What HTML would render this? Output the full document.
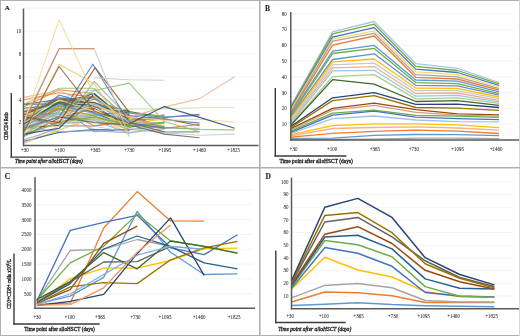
<!DOCTYPE html>
<html><head><meta charset="utf-8"><style>
html,body{margin:0;padding:0;background:#fff;width:520px;height:336px;overflow:hidden;}
svg{display:block;filter:blur(0.35px);}
</style></head><body>
<svg width="520" height="336" viewBox="0 0 520 336">
<rect width="520" height="336" fill="#fff"/>
<line x1="24.0" y1="122.6" x2="256.0" y2="122.6" stroke="#eeeeee" stroke-width="0.6"/>
<line x1="24.0" y1="99.7" x2="256.0" y2="99.7" stroke="#eeeeee" stroke-width="0.6"/>
<line x1="24.0" y1="76.8" x2="256.0" y2="76.8" stroke="#eeeeee" stroke-width="0.6"/>
<line x1="24.0" y1="53.9" x2="256.0" y2="53.9" stroke="#eeeeee" stroke-width="0.6"/>
<line x1="24.0" y1="31.0" x2="256.0" y2="31.0" stroke="#eeeeee" stroke-width="0.6"/>
<line x1="24.0" y1="8.1" x2="256.0" y2="8.1" stroke="#eeeeee" stroke-width="0.6"/>
<polyline points="24.0,115.5 59.1,114.0 94.2,119.2 129.3,121.1 164.4,129.5" stroke="#A9D18E" stroke-width="1.1" fill="none" stroke-linejoin="round" stroke-opacity="0.85"/>
<polyline points="24.0,114.3 59.1,97.4 94.2,103.4 129.3,115.4 164.4,127.5" stroke="#255E91" stroke-width="1.1" fill="none" stroke-linejoin="round" stroke-opacity="0.85"/>
<polyline points="24.0,123.0 59.1,108.3 94.2,96.2 129.3,119.4 164.4,118.6 199.5,125.7" stroke="#7F6000" stroke-width="1.1" fill="none" stroke-linejoin="round" stroke-opacity="0.85"/>
<polyline points="24.0,127.2 59.1,113.5 94.2,113.7 129.3,123.4" stroke="#9DC3E6" stroke-width="1.1" fill="none" stroke-linejoin="round" stroke-opacity="0.85"/>
<polyline points="24.0,117.0 59.1,107.8 94.2,99.2 129.3,113.0 164.4,116.0" stroke="#5A8A39" stroke-width="1.1" fill="none" stroke-linejoin="round" stroke-opacity="0.85"/>
<polyline points="24.0,143.2 59.1,130.1 94.2,117.8 129.3,123.9 164.4,118.9" stroke="#FFC000" stroke-width="1.1" fill="none" stroke-linejoin="round" stroke-opacity="0.85"/>
<polyline points="24.0,111.3 59.1,113.5 94.2,114.1 129.3,125.6 164.4,127.1" stroke="#C9C9C9" stroke-width="1.1" fill="none" stroke-linejoin="round" stroke-opacity="0.85"/>
<polyline points="24.0,104.3 59.1,103.9 94.2,112.4 129.3,127.2 164.4,122.6" stroke="#255E91" stroke-width="1.1" fill="none" stroke-linejoin="round" stroke-opacity="0.85"/>
<polyline points="24.0,110.9 59.1,97.1 94.2,112.9 129.3,119.7 164.4,117.7" stroke="#A5A5A5" stroke-width="1.1" fill="none" stroke-linejoin="round" stroke-opacity="0.85"/>
<polyline points="24.0,114.6 59.1,116.8 94.2,104.1 129.3,122.7" stroke="#4472C4" stroke-width="1.1" fill="none" stroke-linejoin="round" stroke-opacity="0.85"/>
<polyline points="24.0,130.2 59.1,110.9 94.2,103.6 129.3,119.0 164.4,126.2" stroke="#8CC168" stroke-width="1.1" fill="none" stroke-linejoin="round" stroke-opacity="0.85"/>
<polyline points="24.0,113.9 59.1,102.8 94.2,112.3" stroke="#9E480E" stroke-width="1.1" fill="none" stroke-linejoin="round" stroke-opacity="0.85"/>
<polyline points="24.0,119.9 59.1,123.9 94.2,120.7 129.3,133.4" stroke="#7CAFDD" stroke-width="1.1" fill="none" stroke-linejoin="round" stroke-opacity="0.85"/>
<polyline points="24.0,106.7 59.1,89.7 94.2,93.6 129.3,130.0" stroke="#ED7D31" stroke-width="1.1" fill="none" stroke-linejoin="round" stroke-opacity="0.85"/>
<polyline points="24.0,114.8 59.1,113.6 94.2,104.1 129.3,111.5" stroke="#264478" stroke-width="1.1" fill="none" stroke-linejoin="round" stroke-opacity="0.85"/>
<polyline points="24.0,136.1 59.1,108.4 94.2,106.1" stroke="#FFD966" stroke-width="1.1" fill="none" stroke-linejoin="round" stroke-opacity="0.85"/>
<polyline points="24.0,119.9 59.1,106.0 94.2,93.3 129.3,131.1" stroke="#70AD47" stroke-width="1.1" fill="none" stroke-linejoin="round" stroke-opacity="0.85"/>
<polyline points="24.0,108.3 59.1,104.8 94.2,104.2 129.3,113.0" stroke="#43682B" stroke-width="1.1" fill="none" stroke-linejoin="round" stroke-opacity="0.85"/>
<polyline points="24.0,130.2 59.1,107.1 94.2,131.8 129.3,129.5 164.4,126.3" stroke="#5B9BD5" stroke-width="1.1" fill="none" stroke-linejoin="round" stroke-opacity="0.85"/>
<polyline points="24.0,131.2 59.1,104.9 94.2,118.6 129.3,130.0" stroke="#F4B183" stroke-width="1.1" fill="none" stroke-linejoin="round" stroke-opacity="0.85"/>
<polyline points="24.0,136.2 59.1,121.8 94.2,115.2 129.3,111.6 164.4,117.4 199.5,114.4" stroke="#636363" stroke-width="1.1" fill="none" stroke-linejoin="round" stroke-opacity="0.85"/>
<polyline points="24.0,114.3 59.1,98.2 94.2,89.5 129.3,119.5 164.4,128.5 199.5,124.5" stroke="#9DC3E6" stroke-width="1.1" fill="none" stroke-linejoin="round" stroke-opacity="0.85"/>
<polyline points="24.0,126.8 59.1,107.0 94.2,102.5 129.3,117.9" stroke="#CC9A00" stroke-width="1.1" fill="none" stroke-linejoin="round" stroke-opacity="0.85"/>
<polyline points="24.0,119.3 59.1,98.9 94.2,97.7 129.3,131.2" stroke="#698ED0" stroke-width="1.1" fill="none" stroke-linejoin="round" stroke-opacity="0.85"/>
<polyline points="24.0,128.5 59.1,113.4 94.2,119.6 129.3,119.6" stroke="#B7B7B7" stroke-width="1.1" fill="none" stroke-linejoin="round" stroke-opacity="0.85"/>
<polyline points="24.0,136.0 59.1,118.0 94.2,108.4 129.3,124.4" stroke="#843C0C" stroke-width="1.1" fill="none" stroke-linejoin="round" stroke-opacity="0.85"/>
<polyline points="24.0,115.8 59.1,116.6 94.2,114.7 129.3,125.6" stroke="#7CAFDD" stroke-width="1.1" fill="none" stroke-linejoin="round" stroke-opacity="0.85"/>
<polyline points="24.0,104.3 59.1,99.5 94.2,105.7 129.3,127.3" stroke="#43682B" stroke-width="1.1" fill="none" stroke-linejoin="round" stroke-opacity="0.85"/>
<polyline points="24.0,114.0 59.1,116.1 94.2,118.5 129.3,132.7" stroke="#F4B183" stroke-width="1.1" fill="none" stroke-linejoin="round" stroke-opacity="0.85"/>
<polyline points="24.0,116.8 59.1,125.7 94.2,126.0 129.3,121.3 164.4,114.9" stroke="#636363" stroke-width="1.1" fill="none" stroke-linejoin="round" stroke-opacity="0.85"/>
<polyline points="24.0,124.8 59.1,112.3 94.2,118.7 129.3,123.7" stroke="#A9D18E" stroke-width="1.1" fill="none" stroke-linejoin="round" stroke-opacity="0.85"/>
<polyline points="24.0,141.2 59.1,132.4 94.2,129.6 129.3,130.0" stroke="#255E91" stroke-width="1.1" fill="none" stroke-linejoin="round" stroke-opacity="0.85"/>
<polyline points="24.0,127.7 59.1,125.4 94.2,104.3 129.3,110.5" stroke="#7F6000" stroke-width="1.1" fill="none" stroke-linejoin="round" stroke-opacity="0.85"/>
<polyline points="24.0,122.6 59.1,113.4 94.2,117.3 129.3,123.1" stroke="#9DC3E6" stroke-width="1.1" fill="none" stroke-linejoin="round" stroke-opacity="0.85"/>
<polyline points="24.0,116.8 59.1,99.2 94.2,97.4 129.3,122.5" stroke="#5A8A39" stroke-width="1.1" fill="none" stroke-linejoin="round" stroke-opacity="0.85"/>
<polyline points="24.0,115.6 59.1,107.3 94.2,110.4 129.3,127.7" stroke="#FFC000" stroke-width="1.1" fill="none" stroke-linejoin="round" stroke-opacity="0.85"/>
<polyline points="24.0,143.2 59.1,126.1 94.2,126.2 129.3,132.2 164.4,129.2" stroke="#C9C9C9" stroke-width="1.1" fill="none" stroke-linejoin="round" stroke-opacity="0.85"/>
<polyline points="24.0,120.3 59.1,103.8 94.2,93.5 129.3,122.2" stroke="#255E91" stroke-width="1.1" fill="none" stroke-linejoin="round" stroke-opacity="0.85"/>
<polyline points="24.0,126.2 59.1,120.8 94.2,106.8 129.3,115.1 164.4,115.9" stroke="#A5A5A5" stroke-width="1.1" fill="none" stroke-linejoin="round" stroke-opacity="0.85"/>
<polyline points="24.0,123.5 59.1,95.0 94.2,105.6 129.3,115.8 164.4,119.5 199.5,123.1" stroke="#4472C4" stroke-width="1.1" fill="none" stroke-linejoin="round" stroke-opacity="0.85"/>
<polyline points="24.0,104.3 59.1,88.2 94.2,88.2 129.3,120.3 164.4,128.3" stroke="#8CC168" stroke-width="1.1" fill="none" stroke-linejoin="round" stroke-opacity="0.85"/>
<polyline points="24.0,115.0 59.1,99.0 94.2,102.7 129.3,114.4" stroke="#9E480E" stroke-width="1.1" fill="none" stroke-linejoin="round" stroke-opacity="0.85"/>
<polyline points="24.0,121.9 59.1,104.5 94.2,97.3 129.3,121.3 164.4,123.1" stroke="#7CAFDD" stroke-width="1.1" fill="none" stroke-linejoin="round" stroke-opacity="0.85"/>
<polyline points="24.0,123.2 59.1,108.9 94.2,125.8 129.3,121.3 164.4,118.3" stroke="#ED7D31" stroke-width="1.1" fill="none" stroke-linejoin="round" stroke-opacity="0.85"/>
<polyline points="24.0,124.0 59.1,101.9 94.2,106.8 129.3,112.8" stroke="#264478" stroke-width="1.1" fill="none" stroke-linejoin="round" stroke-opacity="0.85"/>
<polyline points="24.0,116.3 59.1,101.4 94.2,104.1 129.3,119.6 164.4,125.0" stroke="#FFD966" stroke-width="1.1" fill="none" stroke-linejoin="round" stroke-opacity="0.85"/>
<polyline points="24.0,129.7 59.1,116.5 94.2,120.5 129.3,126.4 164.4,122.0" stroke="#70AD47" stroke-width="1.1" fill="none" stroke-linejoin="round" stroke-opacity="0.85"/>
<polyline points="24.0,121.8 59.1,102.0 94.2,102.2 129.3,119.2" stroke="#43682B" stroke-width="1.1" fill="none" stroke-linejoin="round" stroke-opacity="0.85"/>
<polyline points="24.0,125.7 59.1,109.4 94.2,103.8 129.3,112.6 164.4,119.0" stroke="#5B9BD5" stroke-width="1.1" fill="none" stroke-linejoin="round" stroke-opacity="0.85"/>
<polyline points="24.0,130.7 59.1,120.1 94.2,128.7" stroke="#F4B183" stroke-width="1.1" fill="none" stroke-linejoin="round" stroke-opacity="0.85"/>
<polyline points="24.0,111.9 59.1,102.4 94.2,109.7" stroke="#636363" stroke-width="1.1" fill="none" stroke-linejoin="round" stroke-opacity="0.85"/>
<polyline points="24.0,134.5 59.1,113.9 94.2,103.5 129.3,123.2 164.4,132.8 199.5,131.9" stroke="#9DC3E6" stroke-width="1.1" fill="none" stroke-linejoin="round" stroke-opacity="0.85"/>
<polyline points="24.0,119.2 59.1,107.7 94.2,115.7 129.3,129.5 164.4,131.8 199.5,131.8" stroke="#CC9A00" stroke-width="1.1" fill="none" stroke-linejoin="round" stroke-opacity="0.85"/>
<polyline points="24.0,127.2 59.1,131.8 94.2,130.6 129.3,132.9 164.4,128.3 199.5,128.3" stroke="#8FAADC" stroke-width="1.1" fill="none" stroke-linejoin="round" stroke-opacity="0.85"/>
<polyline points="24.0,139.8 59.1,128.3 94.2,81.4 129.3,118.0" stroke="#A5A5A5" stroke-width="1.1" fill="none" stroke-linejoin="round" stroke-opacity="0.85"/>
<polyline points="24.0,99.7 59.1,92.8 94.2,97.4 129.3,116.9 164.4,128.3 199.5,124.3" stroke="#ED7D31" stroke-width="1.1" fill="none" stroke-linejoin="round" stroke-opacity="0.85"/>
<polyline points="24.0,136.3 59.1,122.6 94.2,120.3 129.3,128.3 164.4,132.9 199.5,135.2 234.6,134.1" stroke="#C9C9C9" stroke-width="1.1" fill="none" stroke-linejoin="round" stroke-opacity="0.85"/>
<polyline points="24.0,128.3 59.1,116.9 94.2,122.6 129.3,124.9 164.4,134.1 199.5,137.8" stroke="#636363" stroke-width="1.1" fill="none" stroke-linejoin="round" stroke-opacity="0.85"/>
<polyline points="24.0,122.6 59.1,105.4 94.2,113.4 129.3,120.3 164.4,116.9 199.5,115.7" stroke="#5B9BD5" stroke-width="1.1" fill="none" stroke-linejoin="round" stroke-opacity="0.85"/>
<polyline points="24.0,134.1 59.1,122.6 94.2,116.9 129.3,124.9 164.4,127.2 199.5,129.5 234.6,130.0" stroke="#70AD47" stroke-width="1.1" fill="none" stroke-linejoin="round" stroke-opacity="0.85"/>
<polyline points="24.0,128.3 59.1,116.9 94.2,105.4 129.3,116.9 164.4,120.3 199.5,119.2 234.6,122.0" stroke="#FFD966" stroke-width="1.1" fill="none" stroke-linejoin="round" stroke-opacity="0.85"/>
<polyline points="24.0,122.6 59.1,99.7 94.2,111.2 129.3,108.9 164.4,108.9 199.5,107.7 234.6,107.7" stroke="#C5E0B4" stroke-width="1.1" fill="none" stroke-linejoin="round" stroke-opacity="0.85"/>
<polyline points="24.0,97.4 59.1,90.5 94.2,105.4 129.3,116.9 164.4,107.1 199.5,98.6 234.6,76.8" stroke="#F4B183" stroke-width="1.1" fill="none" stroke-linejoin="round" stroke-opacity="0.85"/>
<polyline points="24.0,134.1 59.1,128.3 94.2,94.0 129.3,123.7 164.4,106.6 199.5,117.4 234.6,128.3" stroke="#264478" stroke-width="1.1" fill="none" stroke-linejoin="round" stroke-opacity="0.85"/>
<polyline points="24.0,134.1 59.1,111.2 94.2,90.5 129.3,83.1 164.4,121.5 199.5,131.8" stroke="#8CC168" stroke-width="1.1" fill="none" stroke-linejoin="round" stroke-opacity="0.85"/>
<polyline points="24.0,116.9 59.1,122.6 95.2,67.6 129.3,112.3" stroke="#9E480E" stroke-width="1.1" fill="none" stroke-linejoin="round" stroke-opacity="0.85"/>
<polyline points="24.0,128.3 59.1,116.9 92.8,64.2 129.3,122.6 164.4,128.3" stroke="#4472C4" stroke-width="1.1" fill="none" stroke-linejoin="round" stroke-opacity="0.85"/>
<polyline points="24.0,134.1 59.1,64.2 94.2,83.7 129.3,136.3" stroke="#E6CC5C" stroke-width="1.1" fill="none" stroke-linejoin="round" stroke-opacity="0.85"/>
<polyline points="24.0,131.8 59.1,66.5 94.2,111.2 129.3,122.6 164.4,131.8" stroke="#8B5A3C" stroke-width="1.1" fill="none" stroke-linejoin="round" stroke-opacity="0.85"/>
<polyline points="94.2,77.9 129.3,79.7 164.4,80.2" stroke="#C9C9C9" stroke-width="1.1" fill="none" stroke-linejoin="round" stroke-opacity="0.85"/>
<polyline points="24.0,120.3 59.1,48.7 94.2,48.7 129.3,136.3" stroke="#C9C9C9" stroke-width="1.1" fill="none" stroke-linejoin="round" stroke-opacity="0.85"/>
<polyline points="24.0,122.6 59.1,48.7 94.2,48.7" stroke="#C9784A" stroke-width="1.1" fill="none" stroke-linejoin="round" stroke-opacity="0.85"/>
<polyline points="24.0,122.6 59.1,19.6 94.2,95.7 129.3,122.6" stroke="#F5D98A" stroke-width="1.1" fill="none" stroke-linejoin="round" stroke-opacity="0.85"/>
<line x1="23.5" y1="8.5" x2="23.5" y2="146.2" stroke="#5a5a5a" stroke-width="1.5"/>
<line x1="23.0" y1="145.5" x2="258.5" y2="145.5" stroke="#5a5a5a" stroke-width="1.5"/>
<text x="0" y="0" transform="translate(21.20 124.40) scale(1 1.2)" font-family="Liberation Serif" font-size="5.0" text-anchor="end" font-style="normal" font-weight="normal" fill="#2e2e2e" stroke="#2e2e2e" stroke-width="0.05" >2</text>
<text x="0" y="0" transform="translate(21.20 101.50) scale(1 1.2)" font-family="Liberation Serif" font-size="5.0" text-anchor="end" font-style="normal" font-weight="normal" fill="#2e2e2e" stroke="#2e2e2e" stroke-width="0.05" >4</text>
<text x="0" y="0" transform="translate(21.20 78.60) scale(1 1.2)" font-family="Liberation Serif" font-size="5.0" text-anchor="end" font-style="normal" font-weight="normal" fill="#2e2e2e" stroke="#2e2e2e" stroke-width="0.05" >6</text>
<text x="0" y="0" transform="translate(21.20 55.70) scale(1 1.2)" font-family="Liberation Serif" font-size="5.0" text-anchor="end" font-style="normal" font-weight="normal" fill="#2e2e2e" stroke="#2e2e2e" stroke-width="0.05" >8</text>
<text x="0" y="0" transform="translate(21.20 32.80) scale(1 1.2)" font-family="Liberation Serif" font-size="5.0" text-anchor="end" font-style="normal" font-weight="normal" fill="#2e2e2e" stroke="#2e2e2e" stroke-width="0.05" >10</text>
<text x="0" y="0" transform="translate(24.90 151.80) scale(1 1.2)" font-family="Liberation Serif" font-size="5.0" text-anchor="middle" font-style="normal" font-weight="normal" fill="#2e2e2e" stroke="#2e2e2e" stroke-width="0.05" >+30</text>
<text x="0" y="0" transform="translate(59.60 151.80) scale(1 1.2)" font-family="Liberation Serif" font-size="5.0" text-anchor="middle" font-style="normal" font-weight="normal" fill="#2e2e2e" stroke="#2e2e2e" stroke-width="0.05" >+100</text>
<text x="0" y="0" transform="translate(95.30 151.80) scale(1 1.2)" font-family="Liberation Serif" font-size="5.0" text-anchor="middle" font-style="normal" font-weight="normal" fill="#2e2e2e" stroke="#2e2e2e" stroke-width="0.05" >+365</text>
<text x="0" y="0" transform="translate(129.30 151.80) scale(1 1.2)" font-family="Liberation Serif" font-size="5.0" text-anchor="middle" font-style="normal" font-weight="normal" fill="#2e2e2e" stroke="#2e2e2e" stroke-width="0.05" >+730</text>
<text x="0" y="0" transform="translate(164.90 151.80) scale(1 1.2)" font-family="Liberation Serif" font-size="5.0" text-anchor="middle" font-style="normal" font-weight="normal" fill="#2e2e2e" stroke="#2e2e2e" stroke-width="0.05" >+1095</text>
<text x="0" y="0" transform="translate(199.50 151.80) scale(1 1.2)" font-family="Liberation Serif" font-size="5.0" text-anchor="middle" font-style="normal" font-weight="normal" fill="#2e2e2e" stroke="#2e2e2e" stroke-width="0.05" >+1460</text>
<text x="0" y="0" transform="translate(233.70 151.80) scale(1 1.2)" font-family="Liberation Serif" font-size="5.0" text-anchor="middle" font-style="normal" font-weight="normal" fill="#2e2e2e" stroke="#2e2e2e" stroke-width="0.05" >+1825</text>
<line x1="11.3" y1="93.0" x2="11.3" y2="157.8" stroke="#3a3a3a" stroke-width="1.4"/>
<line x1="10.6" y1="157.1" x2="76.5" y2="157.1" stroke="#3a3a3a" stroke-width="1.4"/>
<text x="0" y="0" transform="translate(8.00 126.00) rotate(-90) scale(1 1.2)" font-family="Liberation Serif" font-size="5.3" text-anchor="middle" font-style="normal" font-weight="normal" fill="#1e1e1e" stroke="#1e1e1e" stroke-width="0.3" textLength="28" lengthAdjust="spacingAndGlyphs">CD8/CD4 Ratio</text>
<text x="0" y="0" transform="translate(15.10 163.30) scale(1 1.2)" font-family="Liberation Serif" font-size="5.3" text-anchor="start" font-style="italic" font-weight="normal" fill="#1e1e1e" stroke="#1e1e1e" stroke-width="0.3" textLength="67.5" lengthAdjust="spacingAndGlyphs">Time point after alloHSCT (days)</text>
<text x="0" y="0" transform="translate(4.70 9.80) scale(1 1.0)" font-family="Liberation Serif" font-size="7.0" text-anchor="start" font-style="normal" font-weight="bold" fill="#1e1e1e" stroke="#1e1e1e" stroke-width="0.15" >A</text>
<line x1="291.0" y1="124.2" x2="514.0" y2="124.2" stroke="#ebebeb" stroke-width="0.6"/>
<line x1="291.0" y1="108.5" x2="514.0" y2="108.5" stroke="#ebebeb" stroke-width="0.6"/>
<line x1="291.0" y1="92.7" x2="514.0" y2="92.7" stroke="#ebebeb" stroke-width="0.6"/>
<line x1="291.0" y1="77.0" x2="514.0" y2="77.0" stroke="#ebebeb" stroke-width="0.6"/>
<line x1="291.0" y1="61.2" x2="514.0" y2="61.2" stroke="#ebebeb" stroke-width="0.6"/>
<line x1="291.0" y1="45.4" x2="514.0" y2="45.4" stroke="#ebebeb" stroke-width="0.6"/>
<line x1="291.0" y1="29.7" x2="514.0" y2="29.7" stroke="#ebebeb" stroke-width="0.6"/>
<line x1="291.0" y1="13.9" x2="514.0" y2="13.9" stroke="#ebebeb" stroke-width="0.6"/>
<polyline points="291.0,105.5 332.6,31.9 374.2,21.5 415.8,63.7 457.4,68.4 499.0,82.5" stroke="#A9C6E0" stroke-width="1.3" fill="none" stroke-linejoin="round" stroke-opacity="1.0"/>
<polyline points="291.0,106.9 332.6,33.9 374.2,24.2 415.8,66.4 457.4,70.5 499.0,83.9" stroke="#70AD47" stroke-width="1.3" fill="none" stroke-linejoin="round" stroke-opacity="1.0"/>
<polyline points="291.0,108.4 332.6,37.1 374.2,27.6 415.8,69.1 457.4,72.5 499.0,85.5" stroke="#4472C4" stroke-width="1.3" fill="none" stroke-linejoin="round" stroke-opacity="1.0"/>
<polyline points="291.0,109.8 332.6,39.1 374.2,30.8 415.8,71.8 457.4,74.6 499.0,87.0" stroke="#FFD966" stroke-width="1.3" fill="none" stroke-linejoin="round" stroke-opacity="1.0"/>
<polyline points="291.0,111.3 332.6,41.2 374.2,33.3 415.8,74.6 457.4,76.8 499.0,88.6" stroke="#A5A5A5" stroke-width="1.3" fill="none" stroke-linejoin="round" stroke-opacity="1.0"/>
<polyline points="291.0,112.7 332.6,45.1 374.2,36.0 415.8,77.3 457.4,79.0 499.0,90.2" stroke="#ED7D31" stroke-width="1.3" fill="none" stroke-linejoin="round" stroke-opacity="1.0"/>
<polyline points="291.0,114.2 332.6,51.1 374.2,45.4 415.8,80.0 457.4,81.2 499.0,91.9" stroke="#5B9BD5" stroke-width="1.3" fill="none" stroke-linejoin="round" stroke-opacity="1.0"/>
<polyline points="291.0,115.6 332.6,53.5 374.2,48.4 415.8,82.6 457.4,83.6 499.0,93.7" stroke="#70AD47" stroke-width="1.3" fill="none" stroke-linejoin="round" stroke-opacity="1.0"/>
<polyline points="291.0,117.1 332.6,59.5 374.2,53.8 415.8,85.3 457.4,85.9 499.0,95.2" stroke="#698ED0" stroke-width="1.3" fill="none" stroke-linejoin="round" stroke-opacity="1.0"/>
<polyline points="291.0,118.5 332.6,61.8 374.2,59.0 415.8,88.0 457.4,88.3 499.0,97.0" stroke="#FFC000" stroke-width="1.3" fill="none" stroke-linejoin="round" stroke-opacity="1.0"/>
<polyline points="291.0,120.0 332.6,64.8 374.2,63.1 415.8,90.7 457.4,90.7 499.0,98.6" stroke="#C9C9C9" stroke-width="1.3" fill="none" stroke-linejoin="round" stroke-opacity="1.0"/>
<polyline points="291.0,121.4 332.6,67.8 374.2,66.7 415.8,93.5 457.4,93.0 499.0,100.3" stroke="#F4B183" stroke-width="1.3" fill="none" stroke-linejoin="round" stroke-opacity="1.0"/>
<polyline points="291.0,122.9 332.6,70.8 374.2,70.3 415.8,96.2 457.4,95.4 499.0,101.9" stroke="#9DC3E6" stroke-width="1.3" fill="none" stroke-linejoin="round" stroke-opacity="1.0"/>
<polyline points="291.0,124.3 332.6,76.6 374.2,74.6 415.8,98.9 457.4,97.8 499.0,103.4" stroke="#A9D18E" stroke-width="1.3" fill="none" stroke-linejoin="round" stroke-opacity="1.0"/>
<polyline points="291.0,125.0 332.6,79.6 374.2,84.2 415.8,101.5 457.4,100.6 499.0,105.3" stroke="#43682B" stroke-width="1.3" fill="none" stroke-linejoin="round" stroke-opacity="1.0"/>
<polyline points="291.0,126.3 332.6,97.8 374.2,92.7 415.8,104.4 457.4,104.1 499.0,107.5" stroke="#264478" stroke-width="1.3" fill="none" stroke-linejoin="round" stroke-opacity="1.0"/>
<polyline points="291.0,127.5 332.6,100.6 374.2,95.7 415.8,107.5 457.4,108.2 499.0,110.4" stroke="#997300" stroke-width="1.3" fill="none" stroke-linejoin="round" stroke-opacity="1.0"/>
<polyline points="291.0,128.7 332.6,108.3 374.2,103.1 415.8,109.7 457.4,113.8 499.0,114.9" stroke="#9E480E" stroke-width="1.3" fill="none" stroke-linejoin="round" stroke-opacity="1.0"/>
<polyline points="291.0,129.9 332.6,110.2 374.2,105.3 415.8,112.4 457.4,115.1 499.0,116.2" stroke="#D2A080" stroke-width="1.3" fill="none" stroke-linejoin="round" stroke-opacity="1.0"/>
<polyline points="291.0,131.1 332.6,113.2 374.2,110.2 415.8,115.3 457.4,116.2 499.0,117.3" stroke="#70AD47" stroke-width="1.3" fill="none" stroke-linejoin="round" stroke-opacity="1.0"/>
<polyline points="291.0,132.3 332.6,115.1 374.2,111.2 415.8,117.1 457.4,118.6 499.0,119.7" stroke="#4472C4" stroke-width="1.3" fill="none" stroke-linejoin="round" stroke-opacity="1.0"/>
<polyline points="291.0,133.5 332.6,118.6 374.2,116.0 415.8,120.0 457.4,121.6 499.0,121.9" stroke="#9DC3E6" stroke-width="1.3" fill="none" stroke-linejoin="round" stroke-opacity="1.0"/>
<polyline points="291.0,134.7 332.6,125.7 374.2,123.8 415.8,123.8 457.4,124.9 499.0,127.7" stroke="#FFC000" stroke-width="1.3" fill="none" stroke-linejoin="round" stroke-opacity="1.0"/>
<polyline points="291.0,135.9 332.6,128.5 374.2,127.5 415.8,126.9 457.4,128.0 499.0,130.1" stroke="#F4B183" stroke-width="1.3" fill="none" stroke-linejoin="round" stroke-opacity="1.0"/>
<polyline points="291.0,137.1 332.6,133.4 374.2,131.3 415.8,130.1 457.4,131.2 499.0,133.5" stroke="#ED7D31" stroke-width="1.3" fill="none" stroke-linejoin="round" stroke-opacity="1.0"/>
<polyline points="291.0,138.3 332.6,138.1 374.2,135.3 415.8,134.5 457.4,134.6 499.0,135.7" stroke="#5B9BD5" stroke-width="1.3" fill="none" stroke-linejoin="round" stroke-opacity="1.0"/>
<polyline points="291.0,139.5 332.6,139.5 374.2,139.1 415.8,138.1 457.4,138.1 499.0,138.6" stroke="#A5A5A5" stroke-width="1.3" fill="none" stroke-linejoin="round" stroke-opacity="1.0"/>
<line x1="290.8" y1="12.0" x2="290.8" y2="140.6" stroke="#5a5a5a" stroke-width="1.5"/>
<line x1="290.0" y1="140.0" x2="519.0" y2="140.0" stroke="#5a5a5a" stroke-width="1.5"/>
<text x="0" y="0" transform="translate(286.80 126.04) scale(1 1.2)" font-family="Liberation Serif" font-size="5.0" text-anchor="end" font-style="normal" font-weight="normal" fill="#2e2e2e" stroke="#2e2e2e" stroke-width="0.05" >10</text>
<text x="0" y="0" transform="translate(286.80 110.28) scale(1 1.2)" font-family="Liberation Serif" font-size="5.0" text-anchor="end" font-style="normal" font-weight="normal" fill="#2e2e2e" stroke="#2e2e2e" stroke-width="0.05" >20</text>
<text x="0" y="0" transform="translate(286.80 94.52) scale(1 1.2)" font-family="Liberation Serif" font-size="5.0" text-anchor="end" font-style="normal" font-weight="normal" fill="#2e2e2e" stroke="#2e2e2e" stroke-width="0.05" >30</text>
<text x="0" y="0" transform="translate(286.80 78.76) scale(1 1.2)" font-family="Liberation Serif" font-size="5.0" text-anchor="end" font-style="normal" font-weight="normal" fill="#2e2e2e" stroke="#2e2e2e" stroke-width="0.05" >40</text>
<text x="0" y="0" transform="translate(286.80 63.00) scale(1 1.2)" font-family="Liberation Serif" font-size="5.0" text-anchor="end" font-style="normal" font-weight="normal" fill="#2e2e2e" stroke="#2e2e2e" stroke-width="0.05" >50</text>
<text x="0" y="0" transform="translate(286.80 47.24) scale(1 1.2)" font-family="Liberation Serif" font-size="5.0" text-anchor="end" font-style="normal" font-weight="normal" fill="#2e2e2e" stroke="#2e2e2e" stroke-width="0.05" >60</text>
<text x="0" y="0" transform="translate(286.80 31.48) scale(1 1.2)" font-family="Liberation Serif" font-size="5.0" text-anchor="end" font-style="normal" font-weight="normal" fill="#2e2e2e" stroke="#2e2e2e" stroke-width="0.05" >70</text>
<text x="0" y="0" transform="translate(286.80 15.72) scale(1 1.2)" font-family="Liberation Serif" font-size="5.0" text-anchor="end" font-style="normal" font-weight="normal" fill="#2e2e2e" stroke="#2e2e2e" stroke-width="0.05" >80</text>
<text x="0" y="0" transform="translate(293.50 151.20) scale(1 1.2)" font-family="Liberation Serif" font-size="5.0" text-anchor="middle" font-style="normal" font-weight="normal" fill="#2e2e2e" stroke="#2e2e2e" stroke-width="0.05" >+30</text>
<text x="0" y="0" transform="translate(332.10 151.20) scale(1 1.2)" font-family="Liberation Serif" font-size="5.0" text-anchor="middle" font-style="normal" font-weight="normal" fill="#2e2e2e" stroke="#2e2e2e" stroke-width="0.05" >+100</text>
<text x="0" y="0" transform="translate(374.90 151.20) scale(1 1.2)" font-family="Liberation Serif" font-size="5.0" text-anchor="middle" font-style="normal" font-weight="normal" fill="#2e2e2e" stroke="#2e2e2e" stroke-width="0.05" >+365</text>
<text x="0" y="0" transform="translate(413.80 151.20) scale(1 1.2)" font-family="Liberation Serif" font-size="5.0" text-anchor="middle" font-style="normal" font-weight="normal" fill="#2e2e2e" stroke="#2e2e2e" stroke-width="0.05" >+730</text>
<text x="0" y="0" transform="translate(457.60 151.20) scale(1 1.2)" font-family="Liberation Serif" font-size="5.0" text-anchor="middle" font-style="normal" font-weight="normal" fill="#2e2e2e" stroke="#2e2e2e" stroke-width="0.05" >+1095</text>
<text x="0" y="0" transform="translate(496.20 151.20) scale(1 1.2)" font-family="Liberation Serif" font-size="5.0" text-anchor="middle" font-style="normal" font-weight="normal" fill="#2e2e2e" stroke="#2e2e2e" stroke-width="0.05" >+1460</text>
<line x1="275.3" y1="88.0" x2="275.3" y2="156.7" stroke="#3a3a3a" stroke-width="1.4"/>
<line x1="274.6" y1="156.0" x2="346.3" y2="156.0" stroke="#3a3a3a" stroke-width="1.4"/>
<text x="0" y="0" transform="translate(279.40 162.70) scale(1 1.2)" font-family="Liberation Serif" font-size="5.4" text-anchor="start" font-style="normal" font-weight="normal" fill="#1e1e1e" stroke="#1e1e1e" stroke-width="0.3" textLength="73.5" lengthAdjust="spacingAndGlyphs">Time point after alloHSCT (days)</text>
<text x="0" y="0" transform="translate(264.90 10.80) scale(1 1.0)" font-family="Liberation Serif" font-size="7.4" text-anchor="start" font-style="normal" font-weight="bold" fill="#1e1e1e" stroke="#1e1e1e" stroke-width="0.15" >B</text>
<line x1="36.0" y1="293.7" x2="253.0" y2="293.7" stroke="#ebebeb" stroke-width="0.6"/>
<line x1="36.0" y1="278.9" x2="253.0" y2="278.9" stroke="#ebebeb" stroke-width="0.6"/>
<line x1="36.0" y1="264.1" x2="253.0" y2="264.1" stroke="#ebebeb" stroke-width="0.6"/>
<line x1="36.0" y1="249.3" x2="253.0" y2="249.3" stroke="#ebebeb" stroke-width="0.6"/>
<line x1="36.0" y1="234.5" x2="253.0" y2="234.5" stroke="#ebebeb" stroke-width="0.6"/>
<line x1="36.0" y1="219.7" x2="253.0" y2="219.7" stroke="#ebebeb" stroke-width="0.6"/>
<line x1="36.0" y1="204.9" x2="253.0" y2="204.9" stroke="#ebebeb" stroke-width="0.6"/>
<line x1="36.0" y1="190.1" x2="253.0" y2="190.1" stroke="#ebebeb" stroke-width="0.6"/>
<polyline points="36.8,304.1 70.2,296.1 103.7,277.4 137.2,211.4 170.6,252.3 204.1,274.5 237.5,273.9" stroke="#5B9BD5" stroke-width="1.3" fill="none" stroke-linejoin="round" stroke-opacity="1.0"/>
<polyline points="36.8,304.7 70.2,303.2 103.7,228.0 137.2,191.6 170.6,220.9 204.1,221.2" stroke="#ED7D31" stroke-width="1.3" fill="none" stroke-linejoin="round" stroke-opacity="1.0"/>
<polyline points="36.8,300.8 70.2,250.5 103.7,249.3 137.2,239.5 170.6,246.3 204.1,249.3" stroke="#A5A5A5" stroke-width="1.3" fill="none" stroke-linejoin="round" stroke-opacity="1.0"/>
<polyline points="36.8,303.2 70.2,278.9 103.7,268.2 137.2,268.2 170.6,260.5 204.1,248.7 237.5,248.1" stroke="#FFC000" stroke-width="1.3" fill="none" stroke-linejoin="round" stroke-opacity="1.0"/>
<polyline points="36.8,301.1 70.2,230.4 103.7,222.4 137.2,215.3 170.6,247.8 204.1,254.6 237.5,234.8" stroke="#4472C4" stroke-width="1.3" fill="none" stroke-linejoin="round" stroke-opacity="1.0"/>
<polyline points="36.8,300.2 70.2,262.9 103.7,246.3 137.2,214.1 170.6,241.0 204.1,246.3 237.5,253.1" stroke="#70AD47" stroke-width="1.3" fill="none" stroke-linejoin="round" stroke-opacity="1.0"/>
<polyline points="36.8,302.6 70.2,283.6 103.7,249.0 137.2,236.0 170.6,246.6 204.1,262.9 237.5,268.8" stroke="#255E91" stroke-width="1.3" fill="none" stroke-linejoin="round" stroke-opacity="1.0"/>
<polyline points="36.8,303.5 70.2,289.6 103.7,243.4 137.2,226.2" stroke="#9E480E" stroke-width="1.3" fill="none" stroke-linejoin="round" stroke-opacity="1.0"/>
<polyline points="36.8,302.0 70.2,281.9 103.7,262.0 137.2,261.7 170.6,246.3" stroke="#636363" stroke-width="1.3" fill="none" stroke-linejoin="round" stroke-opacity="1.0"/>
<polyline points="36.8,303.8 70.2,286.9 103.7,282.7 137.2,283.6 170.6,259.8 204.1,247.8 237.5,241.3" stroke="#997300" stroke-width="1.3" fill="none" stroke-linejoin="round" stroke-opacity="1.0"/>
<polyline points="36.8,305.5 70.2,301.4 103.7,294.3 137.2,253.7 170.6,217.9 204.1,275.3" stroke="#264478" stroke-width="1.3" fill="none" stroke-linejoin="round" stroke-opacity="1.0"/>
<polyline points="36.8,299.6 70.2,281.6 103.7,252.6 137.2,268.8 170.6,241.0 204.1,246.3 237.5,253.1" stroke="#43682B" stroke-width="1.3" fill="none" stroke-linejoin="round" stroke-opacity="1.0"/>
<polyline points="36.8,304.4 70.2,294.0 103.7,274.5 137.2,255.2 170.6,246.3 204.1,249.3" stroke="#7CAFDD" stroke-width="1.3" fill="none" stroke-linejoin="round" stroke-opacity="1.0"/>
<polyline points="36.8,305.2 70.2,304.7 103.7,287.8 137.2,252.3 170.6,225.0" stroke="#F1975A" stroke-width="1.3" fill="none" stroke-linejoin="round" stroke-opacity="1.0"/>
<line x1="35.0" y1="177.2" x2="35.0" y2="309.0" stroke="#5a5a5a" stroke-width="1.5"/>
<line x1="34.3" y1="308.2" x2="255.0" y2="308.2" stroke="#5a5a5a" stroke-width="1.5"/>
<text x="0" y="0" transform="translate(31.50 295.50) scale(1 1.2)" font-family="Liberation Serif" font-size="5.0" text-anchor="end" font-style="normal" font-weight="normal" fill="#2e2e2e" stroke="#2e2e2e" stroke-width="0.05" >500</text>
<text x="0" y="0" transform="translate(31.50 280.70) scale(1 1.2)" font-family="Liberation Serif" font-size="5.0" text-anchor="end" font-style="normal" font-weight="normal" fill="#2e2e2e" stroke="#2e2e2e" stroke-width="0.05" >1000</text>
<text x="0" y="0" transform="translate(31.50 265.90) scale(1 1.2)" font-family="Liberation Serif" font-size="5.0" text-anchor="end" font-style="normal" font-weight="normal" fill="#2e2e2e" stroke="#2e2e2e" stroke-width="0.05" >1500</text>
<text x="0" y="0" transform="translate(31.50 251.10) scale(1 1.2)" font-family="Liberation Serif" font-size="5.0" text-anchor="end" font-style="normal" font-weight="normal" fill="#2e2e2e" stroke="#2e2e2e" stroke-width="0.05" >2000</text>
<text x="0" y="0" transform="translate(31.50 236.30) scale(1 1.2)" font-family="Liberation Serif" font-size="5.0" text-anchor="end" font-style="normal" font-weight="normal" fill="#2e2e2e" stroke="#2e2e2e" stroke-width="0.05" >2500</text>
<text x="0" y="0" transform="translate(31.50 221.50) scale(1 1.2)" font-family="Liberation Serif" font-size="5.0" text-anchor="end" font-style="normal" font-weight="normal" fill="#2e2e2e" stroke="#2e2e2e" stroke-width="0.05" >3000</text>
<text x="0" y="0" transform="translate(31.50 206.70) scale(1 1.2)" font-family="Liberation Serif" font-size="5.0" text-anchor="end" font-style="normal" font-weight="normal" fill="#2e2e2e" stroke="#2e2e2e" stroke-width="0.05" >3500</text>
<text x="0" y="0" transform="translate(31.50 191.90) scale(1 1.2)" font-family="Liberation Serif" font-size="5.0" text-anchor="end" font-style="normal" font-weight="normal" fill="#2e2e2e" stroke="#2e2e2e" stroke-width="0.05" >4000</text>
<text x="0" y="0" transform="translate(37.20 319.00) scale(1 1.2)" font-family="Liberation Serif" font-size="5.0" text-anchor="middle" font-style="normal" font-weight="normal" fill="#2e2e2e" stroke="#2e2e2e" stroke-width="0.05" >+30</text>
<text x="0" y="0" transform="translate(69.60 319.00) scale(1 1.2)" font-family="Liberation Serif" font-size="5.0" text-anchor="middle" font-style="normal" font-weight="normal" fill="#2e2e2e" stroke="#2e2e2e" stroke-width="0.05" >+100</text>
<text x="0" y="0" transform="translate(100.20 319.00) scale(1 1.2)" font-family="Liberation Serif" font-size="5.0" text-anchor="middle" font-style="normal" font-weight="normal" fill="#2e2e2e" stroke="#2e2e2e" stroke-width="0.05" >+365</text>
<text x="0" y="0" transform="translate(135.40 319.00) scale(1 1.2)" font-family="Liberation Serif" font-size="5.0" text-anchor="middle" font-style="normal" font-weight="normal" fill="#2e2e2e" stroke="#2e2e2e" stroke-width="0.05" >+730</text>
<text x="0" y="0" transform="translate(165.00 319.00) scale(1 1.2)" font-family="Liberation Serif" font-size="5.0" text-anchor="middle" font-style="normal" font-weight="normal" fill="#2e2e2e" stroke="#2e2e2e" stroke-width="0.05" >+1095</text>
<text x="0" y="0" transform="translate(199.20 319.00) scale(1 1.2)" font-family="Liberation Serif" font-size="5.0" text-anchor="middle" font-style="normal" font-weight="normal" fill="#2e2e2e" stroke="#2e2e2e" stroke-width="0.05" >+1460</text>
<text x="0" y="0" transform="translate(234.10 319.00) scale(1 1.2)" font-family="Liberation Serif" font-size="5.0" text-anchor="middle" font-style="normal" font-weight="normal" fill="#2e2e2e" stroke="#2e2e2e" stroke-width="0.05" >+1825</text>
<line x1="14.0" y1="253.5" x2="14.0" y2="324.7" stroke="#3a3a3a" stroke-width="1.4"/>
<line x1="13.3" y1="324.0" x2="99.7" y2="324.0" stroke="#3a3a3a" stroke-width="1.4"/>
<text x="0" y="0" transform="translate(10.80 284.00) rotate(-90) scale(1 1.2)" font-family="Liberation Serif" font-size="5.3" text-anchor="middle" font-style="normal" font-weight="normal" fill="#1e1e1e" stroke="#1e1e1e" stroke-width="0.3" textLength="50" lengthAdjust="spacingAndGlyphs">CD3+CD8+ cells x10<tspan font-size="3.6" dy="-1.5">6</tspan><tspan dy="1.5">/L</tspan></text>
<text x="0" y="0" transform="translate(24.20 331.20) scale(1 1.2)" font-family="Liberation Serif" font-size="5.4" text-anchor="start" font-style="normal" font-weight="normal" fill="#1e1e1e" stroke="#1e1e1e" stroke-width="0.3" textLength="70.5" lengthAdjust="spacingAndGlyphs">Time point after alloHSCT (days)</text>
<text x="0" y="0" transform="translate(4.70 178.80) scale(1 1.0)" font-family="Liberation Serif" font-size="7.4" text-anchor="start" font-style="normal" font-weight="bold" fill="#1e1e1e" stroke="#1e1e1e" stroke-width="0.15" >C</text>
<line x1="292.0" y1="296.0" x2="512.0" y2="296.0" stroke="#ebebeb" stroke-width="0.6"/>
<line x1="292.0" y1="283.3" x2="512.0" y2="283.3" stroke="#ebebeb" stroke-width="0.6"/>
<line x1="292.0" y1="270.7" x2="512.0" y2="270.7" stroke="#ebebeb" stroke-width="0.6"/>
<line x1="292.0" y1="258.0" x2="512.0" y2="258.0" stroke="#ebebeb" stroke-width="0.6"/>
<line x1="292.0" y1="245.3" x2="512.0" y2="245.3" stroke="#ebebeb" stroke-width="0.6"/>
<line x1="292.0" y1="232.6" x2="512.0" y2="232.6" stroke="#ebebeb" stroke-width="0.6"/>
<line x1="292.0" y1="219.9" x2="512.0" y2="219.9" stroke="#ebebeb" stroke-width="0.6"/>
<line x1="292.0" y1="207.3" x2="512.0" y2="207.3" stroke="#ebebeb" stroke-width="0.6"/>
<line x1="292.0" y1="194.6" x2="512.0" y2="194.6" stroke="#ebebeb" stroke-width="0.6"/>
<line x1="292.0" y1="181.9" x2="512.0" y2="181.9" stroke="#ebebeb" stroke-width="0.6"/>
<polyline points="291.5,305.4 324.8,304.3 357.8,302.7 392.0,304.6 425.2,305.7 459.7,306.3 494.4,306.7" stroke="#5B9BD5" stroke-width="1.5" fill="none" stroke-linejoin="round" stroke-opacity="1.0"/>
<polyline points="291.5,302.0 324.8,292.0 357.8,292.8 392.0,295.8 425.2,302.4 459.7,302.6 494.4,302.6" stroke="#ED7D31" stroke-width="1.5" fill="none" stroke-linejoin="round" stroke-opacity="1.0"/>
<polyline points="291.5,297.9 324.8,285.4 357.8,283.5 392.0,287.7 425.2,300.5 459.7,302.0 494.4,302.0" stroke="#A5A5A5" stroke-width="1.5" fill="none" stroke-linejoin="round" stroke-opacity="1.0"/>
<polyline points="291.5,289.3 324.8,257.3 357.8,270.0 392.0,277.0 425.2,291.6 459.7,296.7 494.4,297.3" stroke="#FFC000" stroke-width="1.5" fill="none" stroke-linejoin="round" stroke-opacity="1.0"/>
<polyline points="291.5,288.4 324.8,247.6 357.8,253.2 392.0,266.3 425.2,292.5 459.7,296.0 494.4,296.9" stroke="#4472C4" stroke-width="1.5" fill="none" stroke-linejoin="round" stroke-opacity="1.0"/>
<polyline points="291.5,287.1 324.8,240.5 357.8,244.7 392.0,256.8 425.2,286.6 459.7,296.3 494.4,297.3" stroke="#70AD47" stroke-width="1.5" fill="none" stroke-linejoin="round" stroke-opacity="1.0"/>
<polyline points="291.5,285.9 324.8,237.1 357.8,235.2 392.0,248.9 425.2,278.9 459.7,288.3 494.4,289.0" stroke="#255E91" stroke-width="1.5" fill="none" stroke-linejoin="round" stroke-opacity="1.0"/>
<polyline points="291.5,284.6 324.8,234.3 357.8,226.7 392.0,243.5 425.2,270.3 459.7,281.7 494.4,289.0" stroke="#9E480E" stroke-width="1.5" fill="none" stroke-linejoin="round" stroke-opacity="1.0"/>
<polyline points="291.5,283.3 324.8,222.0 357.8,217.4 392.0,236.8 425.2,260.8 459.7,277.5 494.4,286.5" stroke="#636363" stroke-width="1.5" fill="none" stroke-linejoin="round" stroke-opacity="1.0"/>
<polyline points="291.5,282.1 324.8,215.4 357.8,212.6 392.0,232.7 425.2,263.7 459.7,278.3 494.4,287.8" stroke="#997300" stroke-width="1.5" fill="none" stroke-linejoin="round" stroke-opacity="1.0"/>
<polyline points="291.5,280.8 324.8,207.3 357.8,198.4 392.0,217.4 425.2,257.7 459.7,274.5 494.4,284.9" stroke="#264478" stroke-width="1.5" fill="none" stroke-linejoin="round" stroke-opacity="1.0"/>
<line x1="291.5" y1="177.6" x2="291.5" y2="309.3" stroke="#5a5a5a" stroke-width="1.5"/>
<line x1="290.8" y1="308.7" x2="519.0" y2="308.7" stroke="#5a5a5a" stroke-width="1.5"/>
<text x="0" y="0" transform="translate(288.50 297.82) scale(1 1.2)" font-family="Liberation Serif" font-size="5.0" text-anchor="end" font-style="normal" font-weight="normal" fill="#2e2e2e" stroke="#2e2e2e" stroke-width="0.05" >10</text>
<text x="0" y="0" transform="translate(288.50 285.14) scale(1 1.2)" font-family="Liberation Serif" font-size="5.0" text-anchor="end" font-style="normal" font-weight="normal" fill="#2e2e2e" stroke="#2e2e2e" stroke-width="0.05" >20</text>
<text x="0" y="0" transform="translate(288.50 272.46) scale(1 1.2)" font-family="Liberation Serif" font-size="5.0" text-anchor="end" font-style="normal" font-weight="normal" fill="#2e2e2e" stroke="#2e2e2e" stroke-width="0.05" >30</text>
<text x="0" y="0" transform="translate(288.50 259.78) scale(1 1.2)" font-family="Liberation Serif" font-size="5.0" text-anchor="end" font-style="normal" font-weight="normal" fill="#2e2e2e" stroke="#2e2e2e" stroke-width="0.05" >40</text>
<text x="0" y="0" transform="translate(288.50 247.10) scale(1 1.2)" font-family="Liberation Serif" font-size="5.0" text-anchor="end" font-style="normal" font-weight="normal" fill="#2e2e2e" stroke="#2e2e2e" stroke-width="0.05" >50</text>
<text x="0" y="0" transform="translate(288.50 234.42) scale(1 1.2)" font-family="Liberation Serif" font-size="5.0" text-anchor="end" font-style="normal" font-weight="normal" fill="#2e2e2e" stroke="#2e2e2e" stroke-width="0.05" >60</text>
<text x="0" y="0" transform="translate(288.50 221.74) scale(1 1.2)" font-family="Liberation Serif" font-size="5.0" text-anchor="end" font-style="normal" font-weight="normal" fill="#2e2e2e" stroke="#2e2e2e" stroke-width="0.05" >70</text>
<text x="0" y="0" transform="translate(288.50 209.06) scale(1 1.2)" font-family="Liberation Serif" font-size="5.0" text-anchor="end" font-style="normal" font-weight="normal" fill="#2e2e2e" stroke="#2e2e2e" stroke-width="0.05" >80</text>
<text x="0" y="0" transform="translate(288.50 196.38) scale(1 1.2)" font-family="Liberation Serif" font-size="5.0" text-anchor="end" font-style="normal" font-weight="normal" fill="#2e2e2e" stroke="#2e2e2e" stroke-width="0.05" >90</text>
<text x="0" y="0" transform="translate(288.50 183.70) scale(1 1.2)" font-family="Liberation Serif" font-size="5.0" text-anchor="end" font-style="normal" font-weight="normal" fill="#2e2e2e" stroke="#2e2e2e" stroke-width="0.05" >100</text>
<text x="0" y="0" transform="translate(290.20 317.90) scale(1 1.2)" font-family="Liberation Serif" font-size="5.0" text-anchor="middle" font-style="normal" font-weight="normal" fill="#2e2e2e" stroke="#2e2e2e" stroke-width="0.05" >+30</text>
<text x="0" y="0" transform="translate(323.90 317.90) scale(1 1.2)" font-family="Liberation Serif" font-size="5.0" text-anchor="middle" font-style="normal" font-weight="normal" fill="#2e2e2e" stroke="#2e2e2e" stroke-width="0.05" >+100</text>
<text x="0" y="0" transform="translate(358.50 317.90) scale(1 1.2)" font-family="Liberation Serif" font-size="5.0" text-anchor="middle" font-style="normal" font-weight="normal" fill="#2e2e2e" stroke="#2e2e2e" stroke-width="0.05" >+365</text>
<text x="0" y="0" transform="translate(393.20 317.90) scale(1 1.2)" font-family="Liberation Serif" font-size="5.0" text-anchor="middle" font-style="normal" font-weight="normal" fill="#2e2e2e" stroke="#2e2e2e" stroke-width="0.05" >+730</text>
<text x="0" y="0" transform="translate(423.60 317.90) scale(1 1.2)" font-family="Liberation Serif" font-size="5.0" text-anchor="middle" font-style="normal" font-weight="normal" fill="#2e2e2e" stroke="#2e2e2e" stroke-width="0.05" >+1095</text>
<text x="0" y="0" transform="translate(453.70 317.90) scale(1 1.2)" font-family="Liberation Serif" font-size="5.0" text-anchor="middle" font-style="normal" font-weight="normal" fill="#2e2e2e" stroke="#2e2e2e" stroke-width="0.05" >+1460</text>
<text x="0" y="0" transform="translate(491.60 317.90) scale(1 1.2)" font-family="Liberation Serif" font-size="5.0" text-anchor="middle" font-style="normal" font-weight="normal" fill="#2e2e2e" stroke="#2e2e2e" stroke-width="0.05" >+1825</text>
<line x1="275.8" y1="250.5" x2="275.8" y2="323.2" stroke="#3a3a3a" stroke-width="1.4"/>
<line x1="275.1" y1="322.5" x2="345.7" y2="322.5" stroke="#3a3a3a" stroke-width="1.4"/>
<text x="0" y="0" transform="translate(278.30 331.00) scale(1 1.2)" font-family="Liberation Serif" font-size="5.5" text-anchor="start" font-style="italic" font-weight="normal" fill="#1e1e1e" stroke="#1e1e1e" stroke-width="0.3" textLength="73" lengthAdjust="spacingAndGlyphs">Time point after alloHSCT (days)</text>
<text x="0" y="0" transform="translate(265.60 178.80) scale(1 1.0)" font-family="Liberation Serif" font-size="7.4" text-anchor="start" font-style="normal" font-weight="bold" fill="#1e1e1e" stroke="#1e1e1e" stroke-width="0.15" >D</text>
<line x1="0.0" y1="0.5" x2="520.0" y2="0.5" stroke="#b0b0b0" stroke-width="1"/>
<line x1="0.5" y1="0.0" x2="0.5" y2="336.0" stroke="#b0b0b0" stroke-width="1"/>
<line x1="0.0" y1="335.5" x2="520.0" y2="335.5" stroke="#b0b0b0" stroke-width="1"/>
<line x1="519.5" y1="0.0" x2="519.5" y2="336.0" stroke="#d6d6d6" stroke-width="1"/>
<line x1="259.8" y1="0.0" x2="259.8" y2="336.0" stroke="#b0b0b0" stroke-width="1.6"/>
<line x1="0.0" y1="167.8" x2="520.0" y2="167.8" stroke="#b0b0b0" stroke-width="1.6"/>
</svg>
</body></html>
